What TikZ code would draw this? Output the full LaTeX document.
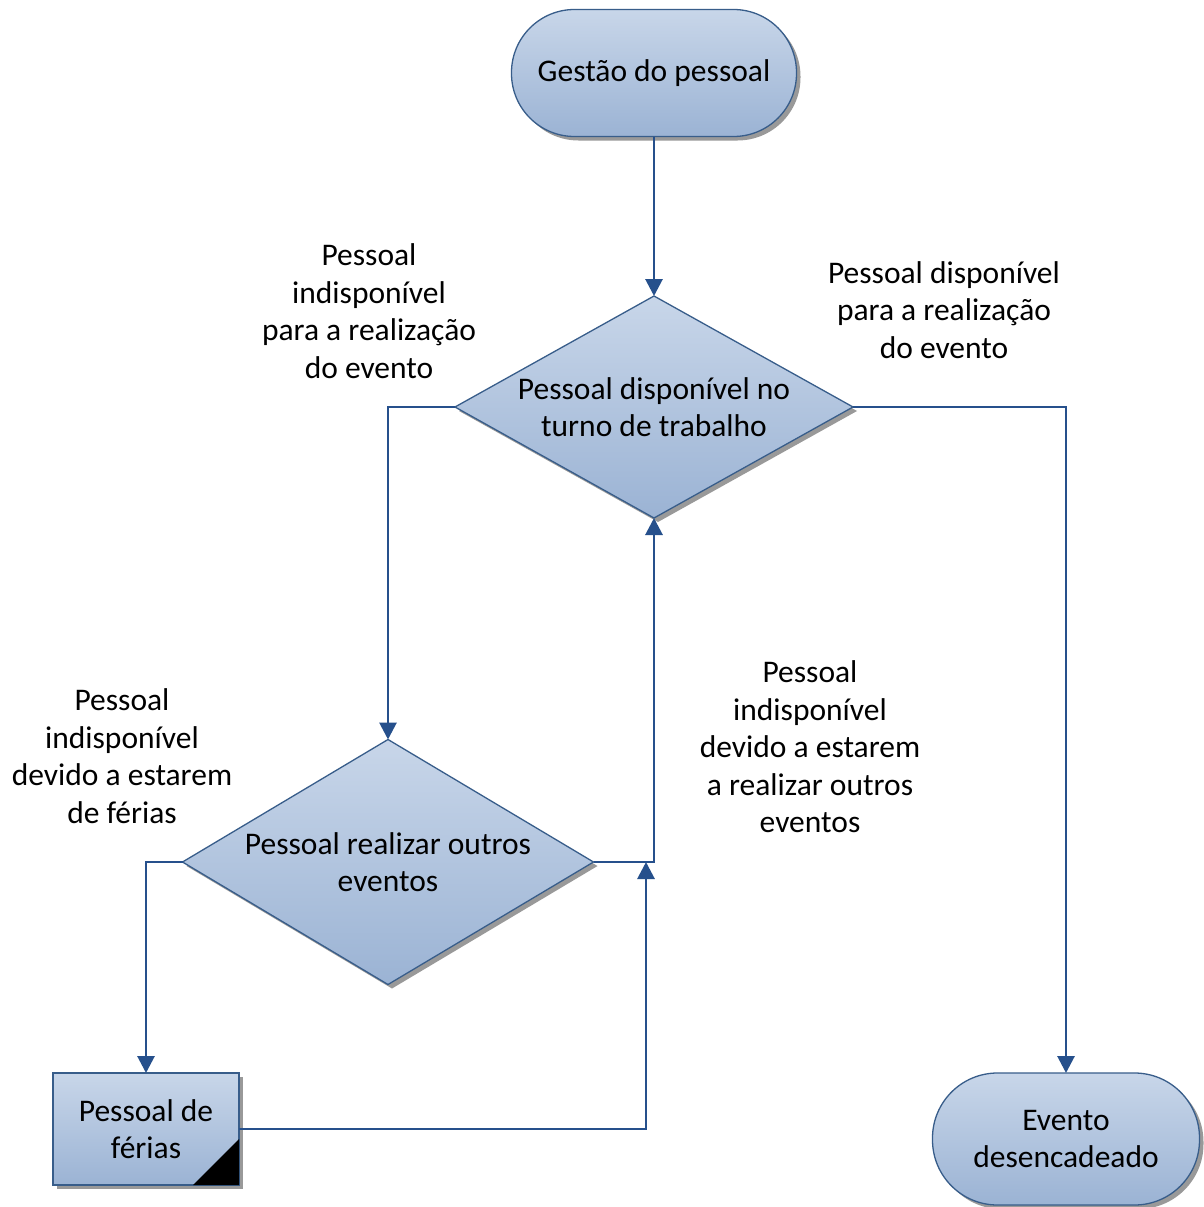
\documentclass[tikz,border=0pt]{standalone}
\usepackage{fontspec}
\setmainfont{Carlito}
\usetikzlibrary{shapes.geometric,arrows.meta,shadows,calc}
\definecolor{edgeblue}{RGB}{56,93,138}
\definecolor{linkblue}{RGB}{38,80,140}
\definecolor{filltop}{RGB}{200,214,233}
\definecolor{fillbot}{RGB}{155,179,212}
\begin{document}
\begin{tikzpicture}[x=1pt,y=-1pt,
  txt/.style={font=\fontsize{31.5}{37.5}\selectfont, align=center, text=black},
  shapebase/.style={txt, draw=edgeblue, line width=1.3pt, top color=filltop, bottom color=fillbot,
    drop shadow={shadow xshift=4pt, shadow yshift=-4pt, fill=black!40, opacity=1},
    inner sep=0pt, outer sep=0pt},
  terminal/.style={shapebase, rectangle, rounded corners=#1},
  decision/.style={shapebase, diamond},
  procbox/.style={shapebase, rectangle, minimum width=186pt, minimum height=112pt},
  link/.style={draw=linkblue, line width=2.9pt, -{Triangle[length=17pt,width=17pt]}}
]
\fill[white] (0,0) rectangle (1204,1207);
\useasboundingbox (0,0) rectangle (1204,1207);

% shapes
\node[terminal=63pt, minimum width=285pt, minimum height=127pt] (start) at (654,73) {Gestão do pessoal};
\node[decision, aspect=1.79, minimum width=398pt, minimum height=222pt] (d1) at (654,407)
  {Pessoal disponível no\\turno de trabalho};
\node[decision, aspect=1.68, minimum width=411pt, minimum height=245pt] (d2) at (388,862)
  {Pessoal realizar outros\\eventos};
\node[procbox] (pf) at (146,1129) {Pessoal de\\férias};
\fill[black] (pf.south east) -- ++(-46,0) -- ++(46,-46) -- cycle;
\node[terminal=65pt, minimum width=267pt, minimum height=132pt] (fim) at (1066,1139)
  {Evento\\desencadeado};

% connectors
\coordinate (join) at (646,862);
\draw[link] (start.south) -- (d1.north);
\draw[link] (d1.west) -| (d2.north);
\draw[link] (d1.east) -| (fim.north);
\draw[link] (d2.east) -| (d1.south);
\draw[link] (d2.west) -| (pf.north);
\draw[link] (pf.east) -| (join);

% branch labels
\node[txt] (lab1) at (369,311) {Pessoal\\indisponível\\para a realização\\do evento};
\node[txt] (lab2) at (944,310) {Pessoal disponível\\para a realização\\do evento};
\node[txt] (lab3) at (122,756) {Pessoal\\indisponível\\devido a estarem\\de férias};
\node[txt] (lab4) at (810,747) {Pessoal\\indisponível\\devido a estarem\\a realizar outros\\eventos};
\end{tikzpicture}
\end{document}
